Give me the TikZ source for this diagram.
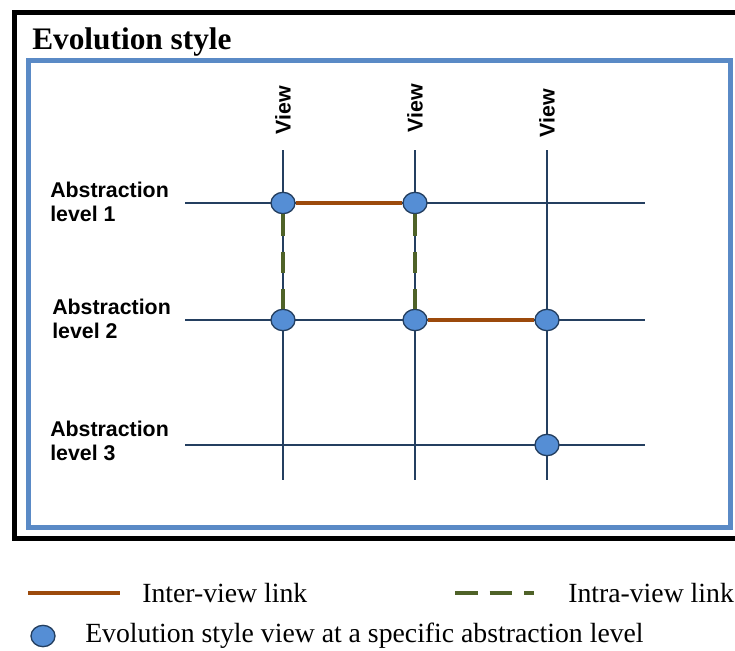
\documentclass[tikz,border=0pt]{standalone}
\usepackage{fontspec}
\setmainfont{Liberation Serif}
\setsansfont{Liberation Sans}
\usetikzlibrary{shapes.geometric}
\definecolor{gridnavy}{HTML}{243F60}
\definecolor{viewblue}{HTML}{558ED5}
\definecolor{frameblue}{HTML}{5A8AC6}
\definecolor{interbrown}{HTML}{9C4A0C}
\definecolor{intragreen}{HTML}{4F6228}

\begin{document}
\begin{tikzpicture}[x=0.75pt,y=-0.75pt,
  every node/.style={font=\sffamily\bfseries\fontsize{16}{17.5}\selectfont},
  viewnode/.style={ellipse,draw=gridnavy,fill=viewblue,line width=1pt,
    minimum width=18pt,minimum height=16pt,inner sep=0pt},
  gridline/.style={gridnavy,line width=1.6pt},
  interlink/.style={interbrown,line width=3.5pt},
  intralink/.style={intragreen,line width=3.5pt,dash pattern=on 16pt off 12pt},
  leveltext/.style={anchor=west,align=left,inner sep=0pt},
  legendtext/.style={font=\rmfamily\fontsize{20.8}{22}\selectfont,anchor=west,inner sep=0pt}]
  \useasboundingbox (0,0) rectangle (735,650);
  \draw[line width=3.75pt] (14,12) rectangle (745,538);
  \draw[frameblue,line width=3.75pt] (28,60) rectangle (730,527);
  \node[anchor=base west,inner sep=0pt,font=\rmfamily\bfseries\fontsize{23.5}{26}\selectfont]
    (title) at (32,49) {Evolution style};
  \foreach \col/\xpos/\ypos in {1/283/110,2/415/108,3/547/113}{
    \node[rotate=90] (view\col) at (\xpos,\ypos) {View};
    \draw[gridline] (\xpos,150) -- (\xpos,480);
  }
  \foreach \ypos in {203,320,445}
    \draw[gridline] (185,\ypos) -- (645,\ypos);
  \node[leveltext] (level1) at (50,202) {Abstraction\\level 1};
  \node[leveltext] (level2) at (52,319) {Abstraction\\level 2};
  \node[leveltext] (level3) at (50,441) {Abstraction\\level 3};
  \node[viewnode] (n11) at (283,203) {};
  \node[viewnode] (n12) at (415,203) {};
  \node[viewnode] (n21) at (283,320) {};
  \node[viewnode] (n22) at (415,320) {};
  \node[viewnode] (n23) at (547,320) {};
  \node[viewnode] (n33) at (547,445) {};
  \draw[interlink] (n11) -- (n12);
  \draw[interlink] (n22) -- (n23);
  \draw[intralink] (n11) -- (n21);
  \draw[intralink] (n12) -- (n22);
  \coordinate (interA) at (28,593);
  \coordinate (interB) at (120,593);
  \draw[interlink] (interA) -- (interB);
  \node[legendtext] (intertext) at (142,593) {Inter-view link};
  \coordinate (intraA) at (455,593);
  \coordinate (intraB) at (534,593);
  \draw[intralink,dash pattern=on 17pt off 9pt] (intraA) -- (intraB);
  \node[legendtext] (intratext) at (568,593) {Intra-view link};
  \node[viewnode] (legendview) at (43,636) {};
  \node[legendtext] (viewtext) at (85,636) {Evolution style view at a specific abstraction level};
\end{tikzpicture}
\end{document}
